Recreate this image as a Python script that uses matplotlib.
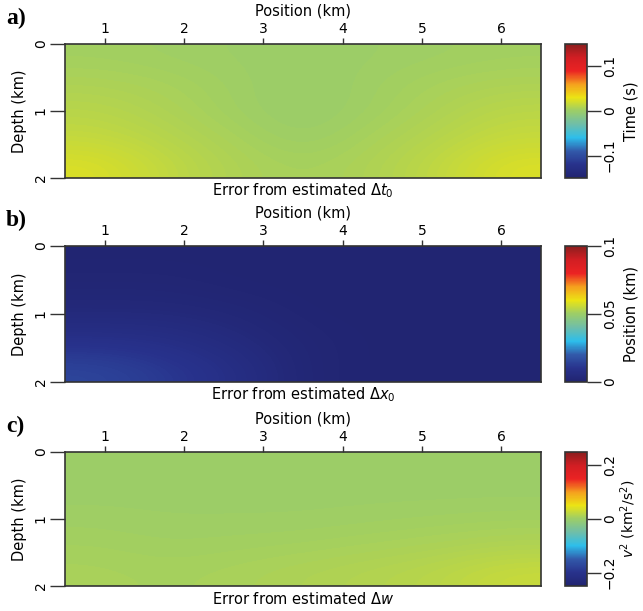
import numpy as np
import matplotlib
matplotlib.use("Agg")
import matplotlib.pyplot as plt
from matplotlib.colors import LinearSegmentedColormap

# ---------------- data ----------------
positions_km = [0.5, 1.5, 2.5, 3.5, 4.5, 5.5, 6.5]
depths_km = [0.0, 0.5, 1.0, 1.5, 2.0]

err_t0 = [  # seconds
    [0.003, 0.002, 0.001, 0.000, 0.001, 0.002, 0.003],
    [0.007, 0.005, 0.002, -0.001, 0.002, 0.005, 0.007],
    [0.011, 0.007, 0.002, -0.001, 0.002, 0.007, 0.012],
    [0.015, 0.010, 0.005, 0.000, 0.005, 0.010, 0.016],
    [0.024, 0.014, 0.007, 0.004, 0.007, 0.014, 0.024],
]
err_x0 = [  # km
    [0.001, 0.001, 0.001, 0.001, 0.001, 0.001, 0.001],
    [0.002, 0.002, 0.001, 0.001, 0.001, 0.001, 0.001],
    [0.004, 0.004, 0.003, 0.001, 0.001, 0.001, 0.001],
    [0.009, 0.008, 0.005, 0.002, 0.001, 0.001, 0.001],
    [0.015, 0.012, 0.008, 0.002, 0.001, 0.001, 0.001],
]
err_w = [  # km^2/s^2
    [0.000, 0.000, 0.000, 0.000, 0.000, 0.000, 0.000],
    [0.001, 0.001, 0.001, 0.001, 0.001, 0.001, 0.001],
    [0.003, 0.002, 0.002, 0.002, 0.003, 0.004, 0.005],
    [0.006, 0.004, 0.005, 0.006, 0.008, 0.010, 0.013],
    [0.009, 0.007, 0.009, 0.012, 0.015, 0.019, 0.028],
]

panels = ["a)", "b)", "c)"]
xlabels = [r"Error from estimated $\Delta t_0$",
           r"Error from estimated $\Delta x_0$",
           r"Error from estimated $\Delta w$"]
cbar_labels = ["Time (s)", "Position (km)", r"$v^2$ (km$^2$/s$^2$)"]
clims = [(-0.15, 0.15), (0.0, 0.1), (-0.25, 0.25)]
cticks = [[-0.1, 0, 0.1], [0, 0.05, 0.1], [-0.2, 0, 0.2]]
cticklabels = [["−0.1", "0", "0.1"], ["0", "0.05", "0.1"], ["−0.2", "0", "0.2"]]
fields = [err_t0, err_x0, err_w]

# ---------------- colormap ----------------
cm_pts = [
    (0.00, (33, 36, 112)),
    (0.10, (40, 50, 140)),
    (0.20, (50, 90, 170)),
    (0.30, (45, 190, 235)),
    (0.40, (110, 190, 170)),
    (0.50, (155, 205, 105)),
    (0.60, (235, 228, 20)),
    (0.70, (245, 160, 30)),
    (0.80, (235, 35, 35)),
    (0.90, (210, 30, 35)),
    (1.00, (140, 30, 30)),
]
cmap = LinearSegmentedColormap.from_list(
    "vplotj", [(p, tuple(c / 255 for c in col)) for p, col in cm_pts])

# ---------------- figure ----------------
W, H = 643, 611
plt.rcParams['font.family'] = ['DejaVu Sans']
fig = plt.figure(figsize=(W / 100, H / 100), dpi=100)

axes_px = [(44, 178), (246, 382), (452, 586)]
left_px, right_px = 65, 541
cb_left, cb_w = 565, 22
spine_col = "#333333"
cb_pads = [5, 5, 1]

def fr(x0, y0, x1, y1):
    return [x0 / W, 1 - y1 / H, (x1 - x0) / W, (y1 - y0) / H]

for i in range(3):
    top, bot = axes_px[i]
    ax = fig.add_axes(fr(left_px, top, right_px, bot))
    Z = np.array(fields[i])
    m = ax.imshow(Z, cmap=cmap, vmin=clims[i][0], vmax=clims[i][1],
                  interpolation="bicubic", aspect="auto",
                  extent=[positions_km[0], positions_km[-1],
                          depths_km[-1], depths_km[0]])
    ax.set_xlim(0.5, 6.5)
    ax.set_ylim(2, 0)
    ax.xaxis.tick_top()
    ax.xaxis.set_label_position("top")
    ax.set_xticks([1, 2, 3, 4, 5, 6])
    ax.set_yticks([0, 1, 2])
    ax.tick_params(axis="x", direction="out", length=4, width=1,
                   color=spine_col, labelsize=10, pad=1.5)
    ax.tick_params(axis="y", direction="out", length=11, width=1,
                   color=spine_col, labelsize=10, pad=1.5, labelrotation=90)
    for lab in ax.get_yticklabels():
        lab.set_va("center")
    ax.set_xlabel("Position (km)", fontsize=10.5, labelpad=5)
    ax.set_ylabel("Depth (km)", fontsize=10.5, labelpad=5)
    for s in ax.spines.values():
        s.set_color(spine_col)
        s.set_linewidth(1.2)
    fig.text((left_px + right_px) / 2 / W, 1 - (bot + 13) / H, xlabels[i],
             ha="center", va="center", fontsize=10.5)
    fig.text(6 / W, 1 - (top - 26) / H, panels[i], ha="left", va="center",
             fontsize=17, fontweight="bold", family="Liberation Serif")

    cax = fig.add_axes(fr(cb_left, top, cb_left + cb_w, bot))
    cb = fig.colorbar(m, cax=cax)
    cb.set_ticks(cticks[i])
    cb.set_ticklabels(cticklabels[i])
    cax.tick_params(axis="y", direction="out", length=10, width=1,
                    color=spine_col, labelsize=10, labelrotation=90, pad=1.5)
    for lab in cax.get_yticklabels():
        lab.set_va("center")
    cb.outline.set_edgecolor(spine_col)
    cb.outline.set_linewidth(1.2)
    cb.set_label(cbar_labels[i], fontsize=10.5 if i < 2 else 10,
                 labelpad=cb_pads[i])

fig.savefig("out.png", dpi=100)
